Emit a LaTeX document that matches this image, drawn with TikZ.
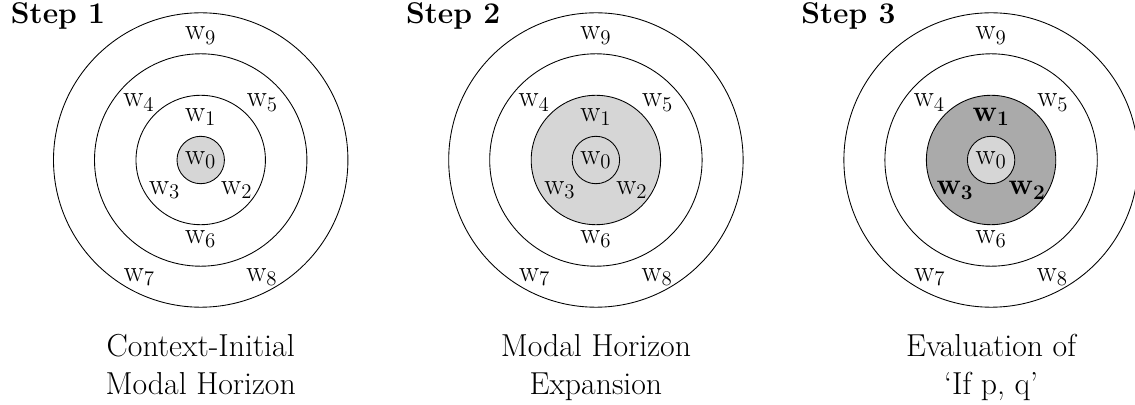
\documentclass[tikz,border=0pt,12pt]{standalone}
\usepackage{amsmath,amssymb}
\usepackage{xcolor}
\usetikzlibrary{positioning}
\definecolor{hzlight}{RGB}{214,214,214}
\definecolor{hzdark}{RGB}{170,170,170}

\begin{document}
\begin{tikzpicture}[
  font=\Large,
  ring/.style={draw=black, line width=0.5pt},
  world/.style={inner sep=1pt},
  steptitle/.style={font=\Large\bfseries, anchor=base west, inner sep=0pt},
  caption/.style={font=\fontsize{18.3}{22}\selectfont, align=center, anchor=base, inner sep=0pt}
]
\useasboundingbox (-4.063,-4.959) rectangle (18.913,3.239);
% ---- step 1: context-initial horizon ----
\begin{scope}[shift={(0,0)}]
  \fill[hzlight] (0,0) circle (0.48);
  \foreach \r in {0.48,1.31,2.15,2.98} \draw[ring] (0,0) circle (\r);
  \node[world] (a0) at (0,0) {$\mathrm{w}_0$};
  \node[world] (a1) at (0,0.87) {$\mathrm{w}_1$};
  \node[world] (a2) at (0.73,-0.61) {$\mathrm{w}_2$};
  \node[world] (a3) at (-0.73,-0.61) {$\mathrm{w}_3$};
  \node[world] (a4) at (-1.25,1.16) {$\mathrm{w}_4$};
  \node[world] (a5) at (1.25,1.16) {$\mathrm{w}_5$};
  \node[world] (a6) at (0,-1.6) {$\mathrm{w}_6$};
  \node[world] (a7) at (-1.24,-2.37) {$\mathrm{w}_7$};
  \node[world] (a8) at (1.24,-2.37) {$\mathrm{w}_8$};
  \node[world] (a9) at (0,2.52) {$\mathrm{w}_9$};
  \node[steptitle] (t1) at (-3.85,2.77) {Step 1};
  \node[caption] (c1) at (0,-4.757) {Context-Initial\\Modal Horizon};
\end{scope}
% ---- step 2: expansion ----
\begin{scope}[shift={(8,0)}]
  \fill[hzlight] (0,0) circle (1.31);
  \foreach \r in {0.48,1.31,2.15,2.98} \draw[ring] (0,0) circle (\r);
  \node[world] (b0) at (0,0) {$\mathrm{w}_0$};
  \node[world] (b1) at (0,0.87) {$\mathrm{w}_1$};
  \node[world] (b2) at (0.73,-0.61) {$\mathrm{w}_2$};
  \node[world] (b3) at (-0.73,-0.61) {$\mathrm{w}_3$};
  \node[world] (b4) at (-1.25,1.16) {$\mathrm{w}_4$};
  \node[world] (b5) at (1.25,1.16) {$\mathrm{w}_5$};
  \node[world] (b6) at (0,-1.6) {$\mathrm{w}_6$};
  \node[world] (b7) at (-1.24,-2.37) {$\mathrm{w}_7$};
  \node[world] (b8) at (1.24,-2.37) {$\mathrm{w}_8$};
  \node[world] (b9) at (0,2.52) {$\mathrm{w}_9$};
  \node[steptitle] (t2) at (-3.85,2.77) {Step 2};
  \node[caption] (c2) at (0,-4.757) {Modal Horizon\\Expansion};
\end{scope}
% ---- step 3: evaluation ----
\begin{scope}[shift={(16,0)}]
  \fill[hzdark] (0,0) circle (1.31);
  \fill[hzlight] (0,0) circle (0.48);
  \foreach \r in {0.48,1.31,2.15,2.98} \draw[ring] (0,0) circle (\r);
  \node[world] (c0) at (0,0) {$\mathrm{w}_0$};
  \node[world] (c1w) at (0,0.87) {$\mathbf{w_1}$};
  \node[world] (c2w) at (0.73,-0.61) {$\mathbf{w_2}$};
  \node[world] (c3w) at (-0.73,-0.61) {$\mathbf{w_3}$};
  \node[world] (c4) at (-1.25,1.16) {$\mathrm{w}_4$};
  \node[world] (c5) at (1.25,1.16) {$\mathrm{w}_5$};
  \node[world] (c6) at (0,-1.6) {$\mathrm{w}_6$};
  \node[world] (c7) at (-1.24,-2.37) {$\mathrm{w}_7$};
  \node[world] (c8) at (1.24,-2.37) {$\mathrm{w}_8$};
  \node[world] (c9) at (0,2.52) {$\mathrm{w}_9$};
  \node[steptitle] (t3) at (-3.85,2.77) {Step 3};
  \node[caption] (cap3) at (0,-4.757) {Evaluation of\\`If p, q'};
\end{scope}
\end{tikzpicture}
\end{document}
